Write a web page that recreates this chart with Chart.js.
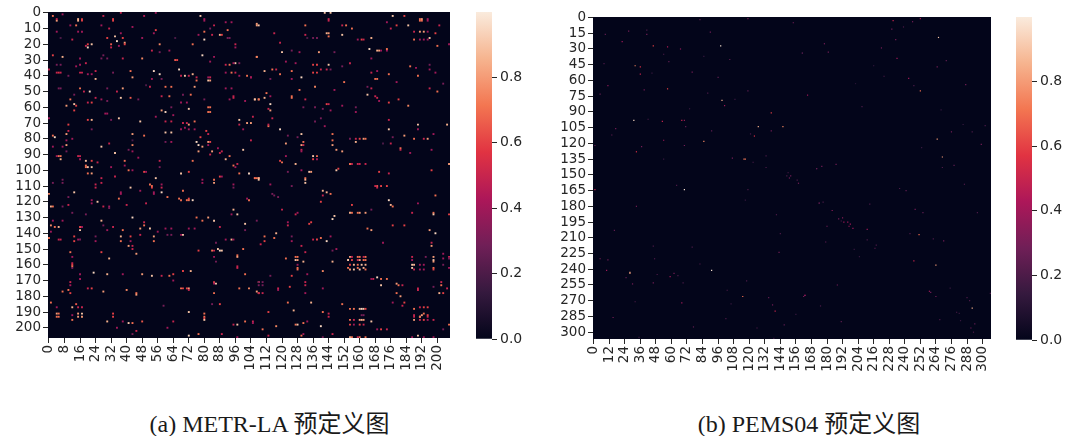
<!DOCTYPE html>
<html>
<head>
<meta charset="utf-8">
<script src="https://cdn.jsdelivr.net/npm/chart.js@4/dist/chart.umd.min.js"></script>
<style>
body { margin: 0; background: #fff; width: 1069px; height: 436px; overflow: hidden; position: relative; }
canvas { position: absolute; top: 0; }
.caption { position: absolute; top: 404px; font: 24px "Liberation Serif", "Noto Sans CJK SC", serif; color: #1a1a1a; white-space: nowrap; transform: translateX(-50%); }
</style>
</head>
<body>
<canvas id="metr-heat" width="454" height="400" style="left:0"></canvas>
<canvas id="metr-bar" width="70" height="353" style="left:476px"></canvas>
<canvas id="pems-heat" width="995" height="401" style="left:0"></canvas>
<canvas id="pems-bar" width="53" height="354" style="left:1016px"></canvas>
<div class="caption" style="left:269.5px">(a) METR-LA 预定义图</div>
<div class="caption" style="left:809px">(b) PEMS04 预定义图</div>
<script>
// --- DATA ---
const metrXTicks = [0,8,16,24,32,40,48,56,64,72,80,88,96,104,112,120,128,136,144,152,160,168,176,184,192,200];
const metrYTicks = [0,10,20,30,40,50,60,70,80,90,100,110,120,130,140,150,160,170,180,190,200];
const pemsXTicks = [0,12,24,36,48,60,72,84,96,108,120,132,144,156,168,180,192,204,216,228,240,252,264,276,288,300];
const pemsYTicks = [0,15,30,45,60,75,90,105,120,135,150,165,180,195,210,225,240,255,270,285,300];
const colorbarTicks = [0,0.2,0.4,0.6,0.8];

// [column, row, weight] of the non-zero cells
const metrCells = [
[2,2,.7],[4,5,.8],[4,4,.5],[7,1,.4],[15,4,.85],[15,5,.85],[17,4,.6],[17,5,.6],[28,2,.5],[33,4,.6],[33,5,.6],[37,0,.5],[49,2,.45],[55,0,.4],[78,2,.9],[80,4,.4],[80,5,.4],
[11,8,.4],[14,8,.7],[85,8,.5],[27,8,.4],[31,10,.5],[43,9,.4],[107,7,.8],[91,6,.4],[94,6,.4],[4,12,.4],[15,12,.4],[17,12,.4],[92,11,.7],[83,10,.3],[88,14,.85],[89,14,.6],[84,14,.5],[80,12,.7],[77,14,.4],[55,11,.6],[54,13,.4],[37,13,.4],
[34,15,.9],[30,16,.6],[38,16,.6],[35,18,.95],[32,20,.65],[32,22,.5],[36,21,.4],[39,19,.8],[39,20,.6],[48,16,.4],[65,16,.2],[92,16,.3],[93,16,.3],[80,17,.95],[12,17,.5],[6,16,.2],[57,20,.75],[74,20,.7],[96,20,.5],[96,22,.4],[22,20,.9],[20,20,.6],[19,21,.5],[20,22,.95],
[53,24,.5],[57,25,.3],[62,24,.4],[2,27,.6],[7,28,.85],[79,27,.95],[107,28,.7],[48,29,.75],[16,29,.4],[38,29,.5],[65,30,.65],[66,30,.6],[28,27,.3],[27,29,.3],[30,29,.3],[85,28,.4],[83,31,.4],[19,32,.5],[16,33,.4],[6,33,.3],[4,33,.3],[14,34,.4],[91,33,.5],[93,33,.7],[96,32,.9],[95,32,.4],[98,32,.3],
[67,36,.95],[0,36,.5],[54,37,.95],[42,37,.7],[24,37,.5],[4,38,.5],[5,38,.55],[6,38,.5],[16,38,.5],[17,38,.5],[33,38,.3],[91,38,.4],[94,38,.7],[96,38,.5],[57,39,.95],[20,39,.4],[22,39,.4],[68,40,.5],[70,40,.9],[74,39,.85],[72,40,.5],[76,41,.5],[82,41,.4],[83,41,.5],[43,41,.8],[24,42,.85],[53,42,.4],[58,42,.3],[76,43,.7],[82,43,.9],[83,43,.8],[102,40,.7],[104,41,.5],[98,40,.4],[10,40,.3],
[60,47,.7],[63,47,.7],[75,47,.8],[52,47,.5],[50,46,.2],[16,48,.7],[38,48,.8],[5,48,.3],[6,48,.3],[30,48,.3],[21,50,.95],[18,50,.5],[35,50,.5],[91,48,.4],[94,48,.4],[13,52,.3],[73,52,.7],[69,52,.3],[58,53,.5],[62,53,.7],[95,53,.5],[95,54,.5],[37,54,.9],[42,54,.65],[24,54,.5],[27,55,.4],[46,55,.3],[11,55,.7],[106,55,.8],[108,55,.8],[80,55,.3],[93,55,.4],[101,56,.4],[30,56,.3],[68,57,.4],[71,57,.4],[20,57,.5],[22,57,.6],[13,58,.9],[14,59,.6],[9,59,.8],[13,62,.6],
[82,60,.7],[83,60,.7],[72,61,.9],[58,62,.8],[60,63,.95],[82,63,.7],[83,63,.7],[63,60,.3],[29,64,.4],[30,64,.4],[64,65,.4],[55,66,.4],[36,67,.9],[0,67,.4],[20,68,.6],[22,68,.85],[32,68,.3],[47,69,.9],[98,68,.9],[60,69,.5],[63,69,.5],[69,70,.5],[71,70,.5],[75,69,.7],[102,70,.8],[104,70,.8],[98,71,.5],[100,74,.4],[10,71,.6],[72,71,.8],[68,74,.4],[70,73,.4],[72,74,.4],[75,74,.4],[22,74,.3],[10,75,.5],
[60,76,.9],[63,76,.9],[81,75,.6],[82,77,.5],[9,77,.8],[43,77,.8],[49,78,.7],[2,78,.7],[3,79,.95],[78,79,.6],[12,80,.4],[76,82,.95],[82,82,.8],[83,82,.6],[9,81,.4],[60,82,.3],[63,82,.4],[31,83,.5],[43,81,.2],[9,84,.8],[43,84,.75],[77,84,.95],[79,85,.8],[82,84,.4],[87,86,.4],[2,85,.4],[7,85,.4],[27,85,.9],[41,87,.3],[100,87,.9],[9,88,.3],[34,89,.9],[43,88,.4],[77,88,.8],[84,88,.8],[88,89,.5],[89,88,.5],[83,90,.5],
[4,91,.4],[5,91,.7],[6,91,.7],[15,91,.5],[16,91,.5],[93,91,.7],[46,92,.4],[6,93,.85],[16,93,.4],[39,94,.7],[57,94,.5],[74,94,.7],[19,94,.9],[22,94,.6],[91,93,.85],[25,95,.5],[19,97,.7],[19,98,.7],[20,98,.9],[22,98,.9],[39,97,.4],[95,97,.7],[97,96,.5],[96,98,.4],[57,98,.3],[32,98,.4],[41,100,.7],[43,100,.4],[49,101,.6],[50,101,.4],[20,102,.7],[22,102,.8],[68,102,.9],[72,101,.6],[98,102,.7],[103,102,.95],[34,104,.5],[55,105,.9],[88,104,.6],[89,104,.4],[107,105,.7],[108,105,.7],
[142,0,.9],[145,0,.9],[177,2,.9],[183,2,.6],[191,4,.7],[192,4,.8],[191,5,.7],[192,5,.7],[195,4,.4],[195,5,.4],[144,4,.5],[144,5,.5],[107,8,.8],[108,8,.9],[132,8,.7],[153,8,.7],[151,8,.5],[174,6,.4],[179,8,.6],[185,8,.9],[201,8,.5],[156,10,.7],[176,10,.5],[143,13,.85],[144,13,.8],[188,12,.5],[191,12,.8],[193,12,.8],[195,12,.4],[199,13,.6],[116,13,.5],[132,14,.5],[151,14,.9],[144,15,.7],[133,16,.2],[136,16,.3],[138,16,.3],
[161,17,.6],[159,17,.4],[162,17,.5],[166,16,.85],[188,17,.7],[191,17,.4],[193,17,.4],[195,17,.4],[196,16,.9],[119,19,.5],[200,21,.7],[206,20,.4],[165,23,.95],[169,24,.85],[170,24,.8],[171,24,.4],[174,24,.4],[174,23,.7],[120,25,.9],[125,24,.3],[129,25,.4],[139,25,.8],[147,25,.3],[107,28,.75],[166,29,.4],[122,31,.4],[155,32,.5],[127,32,.4],[136,33,.6],[138,33,.6],[144,33,.9],[151,34,.3],[186,34,.7],[189,35,.4],[196,33,.3],
[111,37,.85],[115,36,.7],[117,36,.5],[125,37,.7],[136,38,.6],[138,38,.6],[140,36,.5],[143,36,.5],[145,36,.3],[166,38,.5],[169,37,.4],[175,39,.7],[119,39,.7],[199,38,.4],[196,36,.4],[130,41,.95],[125,42,.4],[114,42,.3],[104,41,.4],[190,40,.7],[168,42,.7],[169,42,.7],[179,44,.4],[152,44,.7],[137,47,.75],[166,48,.5],[164,47,.3],[129,49,.7],[147,49,.4],[196,48,.5],[200,50,.7],[203,45,.3],[112,51,.7],[164,52,.9],[125,53,.7],[125,54,.7],[168,53,.5],[169,54,.5],[111,54,.85],[106,55,.9],[108,55,.7],[114,53,.4],[132,55,.5],[180,55,.6],[170,56,.4],[175,57,.6],
[114,58,.95],[143,58,.6],[144,58,.5],[151,59,.4],[158,60,.3],[185,59,.75],[113,61,.5],[114,62,.8],[131,60,.3],[137,60,.3],[141,61,.3],[145,62,.4],[158,63,.4],[105,66,.5],[115,67,.5],[175,68,.5],[137,69,.3],[140,67,.3],[113,72,.7],[113,71,.5],[119,74,.95],[142,72,.4],[175,74,.9],[190,71,.9],[190,74,.4],[205,71,.85],[130,77,.9],[128,79,.3],[146,77,.7],[183,78,.8],[188,80,.7],[193,80,.5],[195,80,.8],[198,77,.4],[162,80,.8],[163,80,.7],[160,80,.6],[158,80,.5],[158,82,.85],[155,80,.3],[123,78,.3],[131,82,.7],[131,84,.5],[122,83,.8],[146,81,.7],[146,84,.8],[130,84,.8],[104,81,.5],[176,83,.5],[172,83,.2],[177,79,.3],
[181,86,.7],[181,87,.5],[148,87,.8],[151,88,.8],[130,87,.5],[130,88,.4],[186,89,.4],[197,87,.4],[136,91,.9],[138,91,.7],[136,93,.6],[138,93,.4],[122,91,.4],[119,94,.6],[120,95,.7],[127,96,.85],[155,96,.7],[156,96,.5],[159,96,.5],[160,96,.5],[163,96,.5],[206,96,.8],[148,100,.9],[149,99,.6],[130,100,.4],[134,101,.9],[135,101,.8],[170,101,.6],[175,102,.5],[197,100,.6],[123,101,.3],[132,105,.7],[106,105,.6],[108,105,.85],
[42,111,.9],[52,109,.7],[53,110,.7],[53,111,.6],[58,109,.4],[58,111,.5],[27,105,.5],[27,108,.5],[24,109,.5],[24,111,.5],[7,106,.3],[7,108,.3],[2,108,.3],[13,114,.9],[58,114,.95],[54,114,.4],[54,115,.4],[47,113,.4],[0,115,.75],[37,114,.4],[37,115,.4],[61,117,.7],[10,117,.3],[36,118,.7],[67,118,.7],[68,119,.7],[71,119,.7],[72,118,.6],[72,119,.7],[74,119,.95],[22,119,.4],[22,121,.4],[25,120,.9],[103,119,.7],[102,118,.4],[79,106,.4],[79,108,.4],[85,106,.7],[85,108,.8],[95,109,.4],[95,111,.3],[69,113,.7],
[10,122,.5],[40,122,.5],[50,121,.5],[1,123,.85],[2,123,.7],[7,123,.3],[28,123,.5],[31,123,.4],[31,124,.3],[95,125,.85],[97,128,.9],[94,128,.4],[12,127,.3],[19,128,.3],[76,130,.7],[82,130,.8],[79,132,.7],[43,130,.95],[85,132,.9],[27,132,.85],[2,132,.4],[7,132,.4],[49,133,.5],[49,135,.7],[101,134,.9],[107,132,.3],[1,135,.75],[3,136,.7],[5,136,.85],[16,136,.6],[17,136,.4],[33,136,.5],[28,135,.3],[47,137,.8],[52,137,.9],[38,138,.7],[30,138,.4],[16,138,.9],[1,139,.4],[56,139,.4],[60,137,.4],[63,137,.4],[75,137,.4],[72,137,.4],[88,136,.5],[101,138,.3],
[61,141,.3],[63,141,.3],[68,141,.4],[69,141,.9],[47,141,.5],[42,142,.6],[37,142,.85],[54,142,.8],[13,142,.6],[0,143,.7],[5,144,.5],[6,144,.5],[15,144,.4],[16,144,.3],[13,145,.6],[37,145,.7],[42,145,.4],[54,145,.7],[24,142,.3],[24,145,.4],[91,144,.4],[94,144,.85],[95,144,.4],[86,146,.3],[41,148,.8],[43,148,.5],[43,150,.5],[84,151,.7],[85,151,.5],[87,150,.9],[88,151,.95],[89,151,.9],[77,151,.6],[100,150,.7],[11,152,.7],[27,152,.6],[45,153,.8],[97,154,.7],[97,155,.8],[12,155,.4],[31,156,.85],[85,155,.4],[86,158,.3],
[12,160,.6],[12,161,.7],[12,159,.5],[97,161,.5],[97,162,.5],[12,162,.3],[23,165,.95],[30,166,.85],[69,164,.6],[73,164,.85],[48,166,.8],[53,167,.9],[62,167,.7],[58,167,.5],[64,166,.6],[16,166,.4],[16,169,.4],[38,166,.4],[101,166,.7],[64,170,.4],[85,171,.6],[86,172,.9],[85,172,.4],[11,171,.5],[11,173,.4],[108,171,.7],[68,175,.7],[69,175,.6],[71,175,.6],[72,175,.8],[72,176,.5],[22,175,.6],[20,175,.5],[40,176,.75],[10,176,.7],[7,177,.7],[103,175,.75],[98,175,.7],[28,177,.8],[85,178,.7],[11,178,.6],[45,178,.7],[45,179,.8],[108,178,.7],
[1,184,.7],[14,185,.65],[12,187,.85],[15,187,.5],[17,187,.5],[4,187,.4],[88,185,.6],[84,185,.3],[59,186,.3],[80,191,.7],[80,193,.7],[80,194,.6],[80,195,.9],[4,191,.8],[5,191,.7],[4,193,.7],[5,193,.7],[15,191,.8],[17,191,.9],[15,193,.8],[17,193,.8],[33,191,.6],[33,193,.6],[12,195,.7],[12,192,.4],[72,190,.9],[30,196,.85],[48,196,.65],[41,197,.9],[43,197,.7],[38,196,.4],[64,196,.5],[101,196,.7],[95,198,.5],[97,198,.9],[105,196,.5],[45,202,.5],[35,200,.4],[61,200,.4],[77,204,.7],[72,205,.95],[89,204,.5],[97,206,.4],[43,204,.3],
[106,105,.7],[108,106,.9],[132,106,.85],[132,108,.9],[114,109,.4],[125,110,.3],[169,110,.65],[168,110,.5],[169,111,.5],[171,110,.6],[174,110,.6],[141,113,.85],[143,114,.85],[145,115,.7],[141,116,.5],[116,116,.3],[115,115,.3],[118,117,.3],[175,119,.95],[176,122,.85],[177,123,.7],[140,120,.6],[199,116,.7],[190,121,.4],[156,122,.6],[120,125,.5],
[155,127,.85],[156,127,.7],[159,127,.7],[160,127,.8],[163,127,.8],[127,128,.5],[128,127,.4],[198,127,.7],[198,128,.9],[187,127,.5],[147,129,.9],[146,131,.95],[206,128,.6],[166,125,.3],[177,135,.6],[183,135,.6],[123,133,.4],[123,135,.5],[134,134,.6],[135,133,.6],[164,137,.7],[166,138,.8],[196,138,.8],[199,140,.95],[117,140,.85],[116,143,.7],[111,142,.7],[111,145,.6],[109,147,.5],[125,142,.3],[125,145,.4],[136,144,.5],[138,144,.6],[140,143,.7],[143,145,.95],[145,142,.4],[172,146,.4],[197,146,.5],[197,148,.8],[130,148,.5],[132,152,.5],[148,150,.4],[146,151,.3],
[155,155,.8],[156,155,.5],[159,155,.7],[160,155,.7],[162,155,.5],[163,155,.7],[154,157,.9],[156,157,.6],[159,157,.5],[160,157,.8],[162,157,.7],[163,157,.7],[155,160,.6],[157,160,.85],[159,160,.7],[161,160,.9],[163,160,.85],[154,162,.7],[155,163,.8],[157,163,.9],[159,162,.7],[160,163,.9],[162,162,.85],[163,163,.7],
[127,155,.7],[128,155,.7],[127,157,.9],[128,157,.8],[128,160,.4],[128,162,.7],[128,163,.7],[131,158,.85],[122,156,.7],[146,158,.85],[187,155,.5],[187,157,.4],[187,160,.9],[188,160,.85],[187,162,.9],[188,163,.5],[191,160,.4],[193,160,.4],[191,163,.4],[193,163,.4],[194,155,.3],[198,155,.8],[198,157,.9],[198,158,.8],[198,162,.7],[198,163,.6],[203,153,.4],[203,156,.4],[206,155,.5],[206,156,.3],[206,162,.4],[203,160,.3],
[141,164,.75],[125,167,.6],[114,167,.3],[133,166,.4],[132,171,.5],[132,173,.5],[169,168,.95],[171,169,.7],[174,169,.7],[167,169,.5],[166,169,.4],[171,173,.9],[179,172,.8],[180,173,.7],[182,173,.5],[108,171,.3],[110,171,.3],[108,173,.3],[110,173,.3],[124,174,.6],[118,175,.5],[118,176,.4],[190,175,.5],[190,176,.5],[141,175,.4],[198,174,.3],[202,171,.5],[202,173,.7],[205,175,.5],[107,177,.8],[108,178,.5],[110,178,.5],[132,178,.4],[201,178,.85],[203,178,.6],[179,178,.7],[181,180,.8],[135,184,.85],[151,185,.7],[123,184,.7],[183,184,.6],[182,186,.5],[177,184,.4],
[155,188,.7],[157,188,.7],[160,188,.85],[161,188,.95],[162,188,.9],[163,188,.6],[155,195,.7],[157,195,.5],[160,195,.8],[161,195,.85],[162,195,.8],[155,198,.6],[157,198,.4],[160,198,.6],[162,198,.5],[161,192,.3],[162,192,.3],[166,196,.9],[188,188,.7],[191,187,.5],[193,187,.6],[195,187,.6],[188,192,.5],[188,193,.5],[191,193,.9],[192,192,.8],[193,191,.7],[195,192,.6],[195,193,.5],[191,193,.7],[188,195,.8],[191,195,.5],[193,195,.6],[195,195,.4],[198,195,.5],
[113,190,.6],[126,189,.85],[127,198,.7],[128,198,.9],[131,197,.7],[133,196,.4],[144,191,.5],[144,193,.5],[140,199,.95],[141,190,.7],[117,199,.75],[110,201,.7],[105,197,.4],[206,198,.7],[171,201,.6],[169,201,.4],[174,201,.5],[203,201,.3],[130,205,.7],[131,204,.4],[146,204,.5],[155,206,.85],[156,206,.7],[160,206,.7],[163,206,.7],[159,206,.5],[113,205,.5],[190,205,.9],[187,206,.4],[193,206,.4],[198,206,.4],[141,206,.3]
];

const pemsCells = [
[82,2,.25],[119,1,.3],[154,5,.3],[27,13,.3],[9,16,.25],[41,12,.2],[41,16,.3],[90,14,.3],[22,23,.4],[46,27,.6],[57,28,.45],[98,27,.98],[67,30,.35],[54,35,.2],[85,37,.15],[105,40,.25],[8,44,.2],[58,42,.25],[161,34,.2],[32,46,.75],[36,47,.55],[36,54,.5],[45,53,.15],[76,52,.3],[96,57,.25],[11,65,.35],[57,68,.6],[39,69,.3],[88,72,.2],[119,70,.25],[5,73,.25],[165,74,.4],[99,79,.85],[109,78,.15],[101,84,.4],[74,87,.15],[137,91,.6],[31,98,.95],[42,97,.2],[53,99,.5],[68,98,.5],[70,98,.35],[71,104,.25],[127,104,.85],[146,104,.75],[17,106,.3],[91,108,.25],[137,108,.3],[121,111,.2],[14,112,.25],[124,113,.55],[54,117,.4],[85,118,.75],[70,122,.3],[1,122,.25],[37,123,.3],[33,128,.55],[133,132,.2],[116,135,.75],[117,135,.7],[107,134,.3],[54,135,.15],[123,138,.2],[133,143,.2],[150,148,.2],[149,151,.2],[152,151,.3],[151,153,.3],[172,144,.2],
[231,3,.5],[252,1,.4],[246,4,.3],[239,9,.2],[230,11,.3],[266,19,.9],[233,21,.3],[222,29,.3],[178,25,.3],[181,33,.3],[161,34,.2],[234,39,.4],[272,41,.25],[265,47,.3],[216,46,.15],[224,56,.2],[243,58,.4],[202,63,.1],[247,65,.2],[252,70,.7],[287,64,.3],[207,85,.2],[268,88,.15],[285,102,.15],[302,103,.2],[276,109,.3],[292,109,.2],[265,116,.8],[299,121,.3],[253,124,.15],[269,133,.8],[278,141,.25],[269,143,.2],[187,140,.3],[176,142,.3],[172,144,.25],
[64,160,.2],[157,155,.2],[158,158,.3],[70,164,.98],[1,164,.5],[119,164,.2],[117,174,.15],[33,180,.3],[174,177,.3],[141,188,.2],[16,203,.25],[144,206,.2],[46,218,.2],[76,219,.2],[143,224,.3],[5,230,.3],[11,231,.3],[47,230,.2],[82,235,.2],[91,241,.98],[10,241,.4],[28,243,.85],[28,244,.8],[25,248,.25],[49,245,.2],[59,247,.4],[62,244,.3],[65,246,.2],[30,254,.3],[46,253,.3],[69,253,.2],[118,251,.2],[103,260,.2],[115,266,.7],[163,265,.4],[162,266,.3],[135,267,.25],[32,271,.2],[68,272,.4],[106,273,.15],[138,274,.3],[140,280,.5],[156,283,.15],[15,286,.3],[102,287,.2],[147,293,.25],[77,295,.25],[126,296,.2],[35,305,.15],[139,306,.15],
[286,159,.2],[236,163,.2],[241,165,.25],[174,177,.2],[177,176,.2],[213,178,.2],[184,184,.35],[248,183,.3],[254,186,.25],[296,186,.2],[189,192,.3],[192,191,.35],[193,195,.4],[196,195,.4],[198,197,.4],[197,199,.4],[200,201,.4],[191,194,.2],[180,199,.3],[211,202,.4],[244,206,.2],[251,207,.7],[211,212,.2],[262,211,.2],[270,213,.3],[179,214,.25],[218,217,.2],[217,220,.25],[201,221,.15],[205,228,.15],[247,232,.5],[264,236,.8],[188,255,.3],[275,258,.15],[259,261,.4],[260,262,.3],[163,265,.35],[264,266,.3],[288,267,.2],[290,270,.2],[306,263,.2],[175,275,.2],[292,277,.85],[280,281,.2],[282,282,.15],[267,288,.2],[191,290,.25],[283,289,.15],[294,292,.25],[291,296,.3],[293,300,.2]
];

// --- COLORMAP (seaborn rocket) ---
const rocketStops = ['#03051a','#35193e','#701f57','#ad1759','#e13342','#f37651','#f6b48f','#faebdd'];

function rocketColor(v) {
    const pos = Math.min(v, 1) * (rocketStops.length - 1);
    const i = Math.min(Math.floor(pos), rocketStops.length - 2);
    const t = pos - i;
    const a = parseInt(rocketStops[i].slice(1), 16);
    const b = parseInt(rocketStops[i + 1].slice(1), 16);
    const mix = shift => Math.round(((a >> shift) & 255) * (1 - t) + ((b >> shift) & 255) * t);
    return `rgb(${mix(16)},${mix(8)},${mix(0)})`;
}

// fills the plot with the zero colour, the cells are drawn on top
const zeroBackground = {
    id: 'zeroBackground',
    beforeDatasetsDraw(chart) {
        const { ctx, chartArea: a } = chart;
        ctx.save();
        ctx.fillStyle = rocketStops[0];
        ctx.fillRect(a.left, a.top, a.right - a.left, a.bottom - a.top);
        ctx.restore();
    }
};

const tickFont = { family: 'DejaVu Sans', size: 13.5 };
const tickGrid = { drawOnChartArea: false, drawTicks: true, tickLength: 5, color: '#262626', lineWidth: 1 };

function renderHeatmap(id, cells, size, xTicks, yTicks, top, plotLeft, pointRadius) {
    return new Chart(document.getElementById(id), {
        type: 'scatter',
        data: {
            datasets: [{
                data: cells.map(c => ({ x: c[0], y: c[1], v: c[2] })),
                pointStyle: 'rect',
                pointRadius: pointRadius,
                pointBorderWidth: 0,
                pointBackgroundColor: ctx => rocketColor(ctx.raw.v)
            }]
        },
        options: {
            responsive: false,
            animation: false,
            events: [],
            layout: { padding: { top: top, left: plotLeft - 48 } },
            plugins: { legend: { display: false }, tooltip: { enabled: false } },
            scales: {
                x: {
                    type: 'linear', min: -0.5, max: size - 0.5,
                    grid: tickGrid, border: { display: false },
                    afterBuildTicks: axis => { axis.ticks = xTicks.map(value => ({ value })); },
                    afterFit: axis => { axis.height = 62; axis.paddingLeft = 0; axis.paddingRight = 0; },
                    ticks: { autoSkip: false, minRotation: 90, maxRotation: 90, padding: 2, color: '#262626', font: tickFont, callback: v => String(v) }
                },
                y: {
                    type: 'linear', reverse: true, min: -0.5, max: size - 0.5,
                    grid: tickGrid, border: { display: false },
                    afterBuildTicks: axis => { axis.ticks = yTicks.map(value => ({ value })); },
                    afterFit: axis => { axis.width = 48; axis.paddingTop = 0; axis.paddingBottom = 0; },
                    ticks: { autoSkip: false, padding: 2, color: '#262626', font: tickFont, callback: v => String(v) }
                }
            }
        },
        plugins: [zeroBackground]
    });
}

function renderColorbar(id, top) {
    return new Chart(document.getElementById(id), {
        type: 'bar',
        data: {
            labels: ['weight'],
            datasets: [{
                data: [[0, 1]],
                barPercentage: 1,
                categoryPercentage: 1,
                backgroundColor: ctx => {
                    const area = ctx.chart.chartArea;
                    if (!area) return rocketStops[0];
                    const g = ctx.chart.ctx.createLinearGradient(0, area.bottom, 0, area.top);
                    rocketStops.forEach((c, i) => g.addColorStop(i / (rocketStops.length - 1), c));
                    return g;
                }
            }]
        },
        options: {
            responsive: false,
            animation: false,
            events: [],
            layout: { padding: { top: top, bottom: 14 } },
            plugins: { legend: { display: false }, tooltip: { enabled: false } },
            scales: {
                x: { display: false },
                y: {
                    position: 'right', min: 0, max: 1,
                    grid: tickGrid, border: { display: false },
                    afterBuildTicks: axis => { axis.ticks = colorbarTicks.map(value => ({ value })); },
                    afterFit: axis => { axis.width = axis.chart.width - 16; axis.paddingTop = 0; axis.paddingBottom = 0; },
                    ticks: { autoSkip: false, padding: 3, color: '#262626', font: { family: 'DejaVu Sans', size: 14 }, callback: v => v.toFixed(1) }
                }
            }
        }
    });
}

renderHeatmap('metr-heat', metrCells, 207, metrXTicks, metrYTicks, 12, 48, 1.35);
renderHeatmap('pems-heat', pemsCells, 307, pemsXTicks, pemsYTicks, 17, 593, 0.85);
renderColorbar('metr-bar', 12);
renderColorbar('pems-bar', 17);
</script>
</body>
</html>
